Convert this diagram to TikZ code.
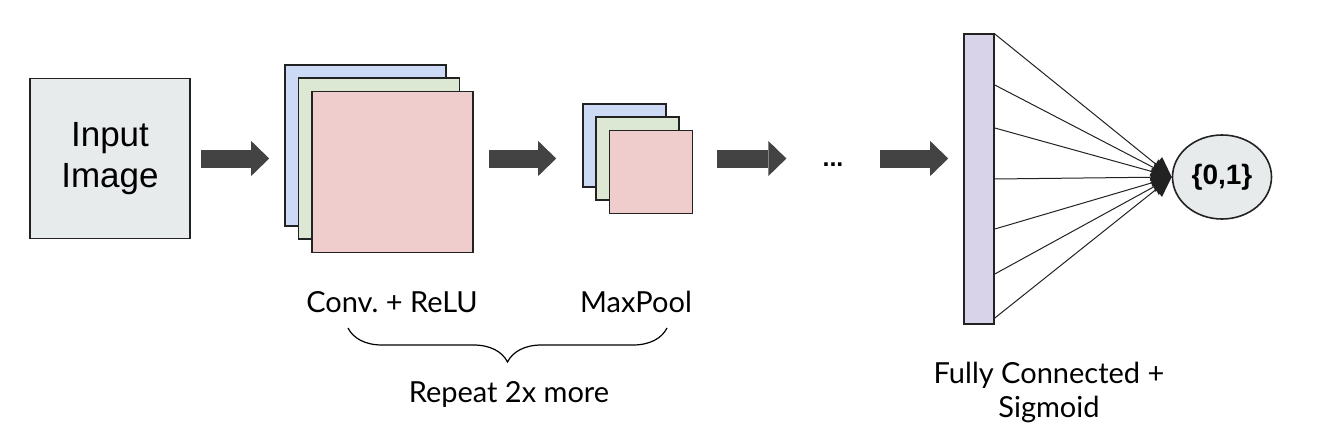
\documentclass[tikz,border=0pt]{standalone}
\usepackage{fontspec}
\setmainfont{Lato}
\newfontfamily\arialfont{Liberation Sans}
\usetikzlibrary{arrows.meta,shapes.geometric,decorations.pathreplacing}
\frenchspacing

\definecolor{boxgray}{HTML}{E8EBEC}
\definecolor{mapblue}{HTML}{CCDAF5}
\definecolor{mapgreen}{HTML}{DCE8D4}
\definecolor{mapred}{HTML}{EECDCC}
\definecolor{fcpurple}{HTML}{D9D3E9}
\definecolor{arrowgray}{HTML}{434343}
\definecolor{edgegray}{HTML}{222222}

\tikzset{
    layer/.style={draw=edgegray, line width=1.6pt, inner sep=0pt, minimum size=#1},
    fatarrow/.style={draw=arrowgray, line width=18pt,
        -{Triangle[length=18pt, width=35pt, line width=0pt]}},
    fan/.style={draw=edgegray, line width=1pt,
        -{Triangle[length=20pt, width=19pt, line width=0pt]}},
    caption/.style={font=\fontsize{29}{34}\selectfont, anchor=base, inner sep=0pt, align=center}
}

\begin{document}
\begin{tikzpicture}[x=1pt, y=-1pt]
    \useasboundingbox (0,0) rectangle (1330,444);

    \node[layer=160pt, fill=boxgray, align=center, font=\arialfont\fontsize{35}{42}\selectfont] (input) at (110,158.5) {Input\\[-1pt]Image};

    % conv + relu maps
    \node[layer=161pt, fill=mapblue]  (convA) at (365.5,145.5) {};
    \node[layer=161pt, fill=mapgreen] (convB) at (379,158.5) {};
    \node[layer=161pt, fill=mapred]   (convC) at (392.5,172) {};

    % maxpool maps
    \node[layer=83pt, fill=mapblue]  (mpA) at (624.5,145.5) {};
    \node[layer=83pt, fill=mapgreen] (mpB) at (637.5,158.5) {};
    \node[layer=83pt, fill=mapred]   (mpC) at (651,172) {};

    \node[anchor=base, inner sep=0pt, font=\arialfont\bfseries\fontsize{25}{25}\selectfont] (dots) at (833,166) {...};

    \node[draw=edgegray, line width=1.6pt, fill=fcpurple, inner sep=0pt, minimum width=30pt, minimum height=290pt] (fc) at (979,179) {};
    \node[draw=edgegray, line width=1.6pt, fill=boxgray, ellipse, inner sep=0pt, minimum width=99pt, minimum height=84pt, font=\arialfont\bfseries\fontsize{28}{28}\selectfont] (out) at (1222,177) {\{0,1\}};

    % arrows between stages
    \draw[fatarrow, shorten <=10pt, shorten >=15pt] (input.east) -- (input -| convA.west);
    \draw[fatarrow, shorten <=15pt, shorten >=26pt] (convC.east |- input) -- (input -| mpA.west);
    \draw[fatarrow, shorten <=24pt, shorten >=36pt] (mpC.east |- input) -- (input -| dots.west);
    \draw[fatarrow, shorten <=36pt, shorten >=15pt] (dots.east |- input) -- (input -| fc.west);

    % fully connected fan
    \foreach \y in {34,85,128,179,229,274,318}
        \draw[fan] (fc.east |- 0,\y) -- (out.west);

    \node[caption] (convlabel) at (392,312) {Conv. + ReLU};
    \node[caption] (mplabel) at (636,312) {MaxPool};
    \draw[line width=1.2pt, decorate, decoration={brace, mirror, amplitude=34pt}] (348,328) -- (667,328);
    \node[caption] (repeat) at (509,402) {Repeat 2x more};
    \node[caption] (fclabel) at (1049,417) {Fully Connected +\\Sigmoid};
\end{tikzpicture}
\end{document}
